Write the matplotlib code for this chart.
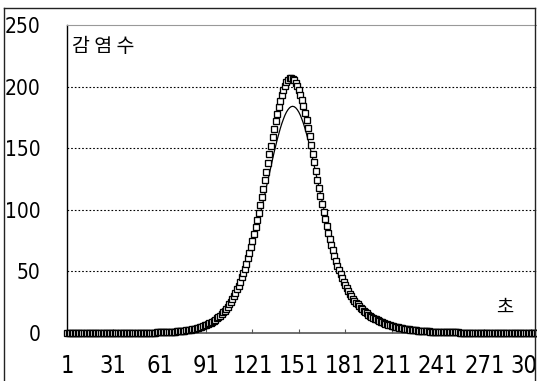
import numpy as np
import matplotlib
matplotlib.use('Agg')
import matplotlib.pyplot as plt
from matplotlib import font_manager
from matplotlib.font_manager import FontProperties
from matplotlib.lines import Line2D

# observed infections per day (squares)
infected_obs = [
    0.0, 0.0, 0.0, 0.0, 0.0, 0.0, 0.0, 0.0, 0.0, 0.0,
    0.0, 0.0, 0.0, 0.0, 0.0, 0.0, 0.0, 0.01, 0.01, 0.01,
    0.01, 0.01, 0.01, 0.01, 0.02, 0.02, 0.02, 0.02, 0.02, 0.03,
    0.03, 0.03, 0.03, 0.04, 0.04, 0.04, 0.05, 0.05, 0.06, 0.06,
    0.07, 0.07, 0.08, 0.09, 0.1,
    0.13, 0.15, 0.16, 0.17, 0.19, 0.21, 0.23, 0.25, 0.27, 0.3,
    0.32, 0.35, 0.38, 0.42, 0.45, 0.5, 0.55, 0.6, 0.65, 0.7,
    0.75, 0.85, 0.9, 1.0, 1.1, 1.2, 1.3, 1.4, 1.5, 1.7,
    1.8, 2.0, 2.2, 2.4, 2.6, 2.8, 3.0, 3.3, 3.6, 3.9,
    4.3, 4.7, 5.1, 5.6, 6.1, 6.6, 7.2, 7.8, 8.5, 9.2,
    10.1, 10.9, 11.9, 12.9, 14.1, 15.4, 16.7, 18.2, 19.8, 21.5,
    23.4, 25.4, 27.6, 30.0, 32.6, 35.4, 38.4, 41.6, 45.1, 48.6,
    52.3, 56.3, 60.5, 65.1, 69.8, 74.9, 80.2, 85.8, 91.6, 97.7,
    104.0, 110.6, 117.2, 124.1, 131.0, 138.0, 145.0, 152.0, 158.8, 165.4,
    171.8, 177.8, 183.5, 188.6, 193.3, 197.4, 200.8, 203.5, 205.4, 206.6,
    207.0,
    206.5, 205.0, 203.0, 200.5, 197.5, 193.5, 189.0, 184.0, 178.5, 172.5,
    166.0, 159.5, 152.5, 145.5, 138.5, 131.5, 124.5, 117.5, 111.0, 104.5,
    98.5, 92.5, 87.0, 81.5, 76.5, 71.5, 67.0, 62.5, 58.5, 54.5,
    51.0, 47.5, 44.5, 41.5, 39.0, 36.5, 34.0, 32.0, 30.0, 28.0,
    26.3, 24.7, 23.2, 21.8, 20.5, 19.3, 18.1, 17.0, 16.0, 15.0,
    14.1, 13.2, 12.4, 11.7, 11.0, 10.3, 9.7, 9.1, 8.6, 8.1,
    7.6, 7.1, 6.7, 6.3, 5.9, 5.6, 5.2, 4.9, 4.6, 4.3,
    4.1, 3.8, 3.6, 3.4, 3.2, 3.0, 2.8, 2.6, 2.5, 2.3,
    2.2, 2.0, 1.9, 1.8, 1.7, 1.6, 1.5, 1.4, 1.3, 1.2,
    1.15, 1.1, 1.0, 0.95, 0.9, 0.85, 0.8, 0.75, 0.7, 0.65,
    0.6, 0.57, 0.54, 0.51, 0.48, 0.45, 0.43, 0.41, 0.39, 0.37,
    0.35, 0.33, 0.31, 0.29, 0.28, 0.26, 0.25, 0.24, 0.22, 0.21,
    0.2, 0.19, 0.18, 0.17, 0.16, 0.15, 0.14, 0.13, 0.12, 0.12,
    0.11, 0.1, 0.1, 0.09, 0.09, 0.08, 0.08, 0.07, 0.07, 0.07,
    0.06, 0.06, 0.06, 0.05, 0.05, 0.05, 0.05, 0.04, 0.04, 0.04,
    0.04, 0.04, 0.03, 0.03, 0.03, 0.03, 0.03, 0.02, 0.02, 0.02,
]

# model curve (solid line)
infected_model = [
    0.0, 0.0, 0.0, 0.0, 0.0, 0.0, 0.0, 0.0, 0.0, 0.0,
    0.0, 0.0, 0.0, 0.0, 0.0, 0.0, 0.0, 0.0, 0.01, 0.01,
    0.01, 0.01, 0.01, 0.02, 0.02, 0.02, 0.02, 0.03, 0.03, 0.03,
    0.04, 0.04, 0.05, 0.05, 0.06, 0.07, 0.08, 0.09, 0.1, 0.11,
    0.12, 0.14, 0.16, 0.18, 0.21, 0.23,
    0.25, 0.27, 0.29, 0.31, 0.34, 0.37, 0.4, 0.43, 0.47, 0.5,
    0.55, 0.6, 0.65, 0.7, 0.75, 0.8, 0.9, 0.95, 1.0, 1.1,
    1.2, 1.3, 1.4, 1.5, 1.6, 1.8, 1.9, 2.1, 2.2, 2.4,
    2.6, 2.8, 3.1, 3.3, 3.6, 3.9, 4.2, 4.5, 4.9, 5.3,
    5.7, 6.2, 6.7, 7.3, 7.9, 8.5, 9.2, 9.9, 10.7, 11.6,
    12.5, 13.5, 14.6, 15.8, 17.0, 18.4, 19.8, 21.3, 23.0, 24.8,
    26.8, 28.8, 31.0, 33.4, 35.9, 38.6, 41.5, 44.5, 47.7, 51.2,
    54.8, 58.6, 62.6, 66.8, 71.3, 75.9, 80.7, 85.6, 90.9, 96.1,
    101.5, 107.0, 112.7, 118.4, 124.1, 129.9, 135.6, 141.2, 146.6, 151.9,
    156.9, 161.6, 166.0, 170.0, 173.5, 176.7, 179.3, 181.3, 182.8, 183.7,
    184.0,
    183.7, 182.8, 181.3, 179.3, 176.7, 173.5, 170.0, 166.0, 161.6, 156.9,
    151.9, 146.6, 141.2, 135.6, 129.9, 124.1, 118.4, 112.7, 107.0, 101.5,
    96.1, 90.9, 85.6, 80.7, 75.9, 71.3, 66.8, 62.6, 58.6, 54.8,
    51.2, 47.7, 44.5, 41.5, 38.6, 35.9, 33.4, 31.0, 28.8, 26.8,
    24.8, 23.0, 21.3, 19.8, 18.4, 17.0, 15.8, 14.6, 13.5, 12.5,
    11.6, 10.7, 9.9, 9.2, 8.5, 7.9, 7.3, 6.7, 6.2, 5.7,
    5.3, 4.9, 4.5, 4.2, 3.9, 3.6, 3.3, 3.1, 2.8, 2.6,
    2.4, 2.2, 2.1, 1.9, 1.8, 1.6, 1.5, 1.4, 1.3, 1.2,
    1.1, 1.0, 0.95, 0.9, 0.8, 0.75, 0.7, 0.65, 0.6, 0.55,
    0.5, 0.47, 0.43, 0.4, 0.37, 0.34, 0.31, 0.29, 0.27, 0.25,
    0.23, 0.21, 0.19, 0.18, 0.16, 0.15, 0.14, 0.12, 0.11, 0.1,
    0.09, 0.09, 0.08, 0.07, 0.07, 0.06, 0.06, 0.05, 0.05, 0.05,
    0.04, 0.04, 0.04, 0.03, 0.03, 0.03, 0.03, 0.02, 0.02, 0.02,
    0.02, 0.02, 0.02, 0.02, 0.01, 0.01, 0.01, 0.01, 0.01, 0.01,
    0.01, 0.01, 0.01, 0.01, 0.01, 0.0, 0.0, 0.0, 0.0, 0.0,
    0.0, 0.0, 0.0, 0.0, 0.0, 0.0, 0.0, 0.0, 0.0, 0.0,
]

x_ticks = [1, 31, 61, 91, 121, 151, 181, 211, 241, 271, 301, 331]
y_ticks = [0, 50, 100, 150, 200, 250]


def narrow_font():
    # look for a condensed / narrow face for the axis numbers
    best = None
    for f in font_manager.fontManager.ttflist:
        is_narrow = ('Narrow' in f.name or 'Condensed' in f.name
                     or f.stretch in ('condensed', 'semi-condensed', 'extra-condensed'))
        if not is_narrow or f.style != 'normal':
            continue
        if f.weight not in (400, 'normal', 'regular'):
            continue
        if best is None or 'Liberation' in f.name:
            best = f
    if best is None:
        return None
    return FontProperties(fname=best.fname)


num_fp = narrow_font()
if num_fp is not None:
    y_size, x_size = 15, 17
else:
    num_fp = FontProperties(family='Liberation Sans')
    y_size, x_size = 13, 14
kr_font = 'Noto Sans CJK KR'

fig = plt.figure(figsize=(5.37, 3.81), dpi=100)
W, H = 537, 381
# plot area runs past the right edge (chart is cut there)
ax = fig.add_axes([67 / W, 48 / H, 510 / W, 308 / H])

days_obs = np.arange(1, len(infected_obs) + 1)
days_mod = np.arange(1, len(infected_model) + 1)

ax.plot(days_mod, infected_model, color='black', lw=0.9, zorder=3)
ax.plot(days_obs, infected_obs, linestyle='none', marker='s', markersize=4.8,
        markerfacecolor='white', markeredgecolor='black', markeredgewidth=0.95,
        clip_on=False, zorder=4)

ax.set_xlim(1, 331)
ax.set_ylim(0, 250)
ax.set_xticks(x_ticks)
ax.set_xticklabels([str(t) for t in x_ticks])
ax.set_yticks(y_ticks)
ax.set_yticklabels([str(t) for t in y_ticks])

for y in y_ticks[1:-1]:
    ax.axhline(y, color='black', lw=0.8, linestyle=(0, (1.5, 1.8)), zorder=1)

ax.tick_params(axis='x', direction='in', length=3, width=0.8, color='#555555',
               pad=15)
ax.tick_params(axis='y', length=0, pad=19)
for lab in ax.get_xticklabels():
    lab.set_fontproperties(num_fp)
    lab.set_fontsize(x_size)
for lab in ax.get_yticklabels():
    lab.set_fontproperties(num_fp)
    lab.set_fontsize(y_size)

ax.spines['left'].set_color('black')
ax.spines['left'].set_linewidth(1.0)
ax.spines['bottom'].set_color('#555555')
ax.spines['bottom'].set_linewidth(1.2)
ax.spines['top'].set_color('#999999')
ax.spines['top'].set_linewidth(0.8)
ax.spines['right'].set_visible(False)

fig.text(72 / W, 1 - 46 / H, '감 염 수', family=kr_font, fontsize=14,
         ha='left', va='center')
fig.text(505 / W, 1 - 307 / H, '초', family=kr_font, fontsize=13.5,
         ha='center', va='center')

# outer frame
frame_kw = dict(color='#222222', lw=1.0, zorder=10)
fig.add_artist(Line2D([4 / W, 4 / W], [0, 1 - 8 / H], transform=fig.transFigure, **frame_kw))
fig.add_artist(Line2D([4 / W, 535 / W], [1 - 8 / H, 1 - 8 / H], transform=fig.transFigure, **frame_kw))
fig.add_artist(Line2D([535 / W, 535 / W], [0, 1 - 8 / H], transform=fig.transFigure, **frame_kw))

fig.savefig('out.png', dpi=100)
